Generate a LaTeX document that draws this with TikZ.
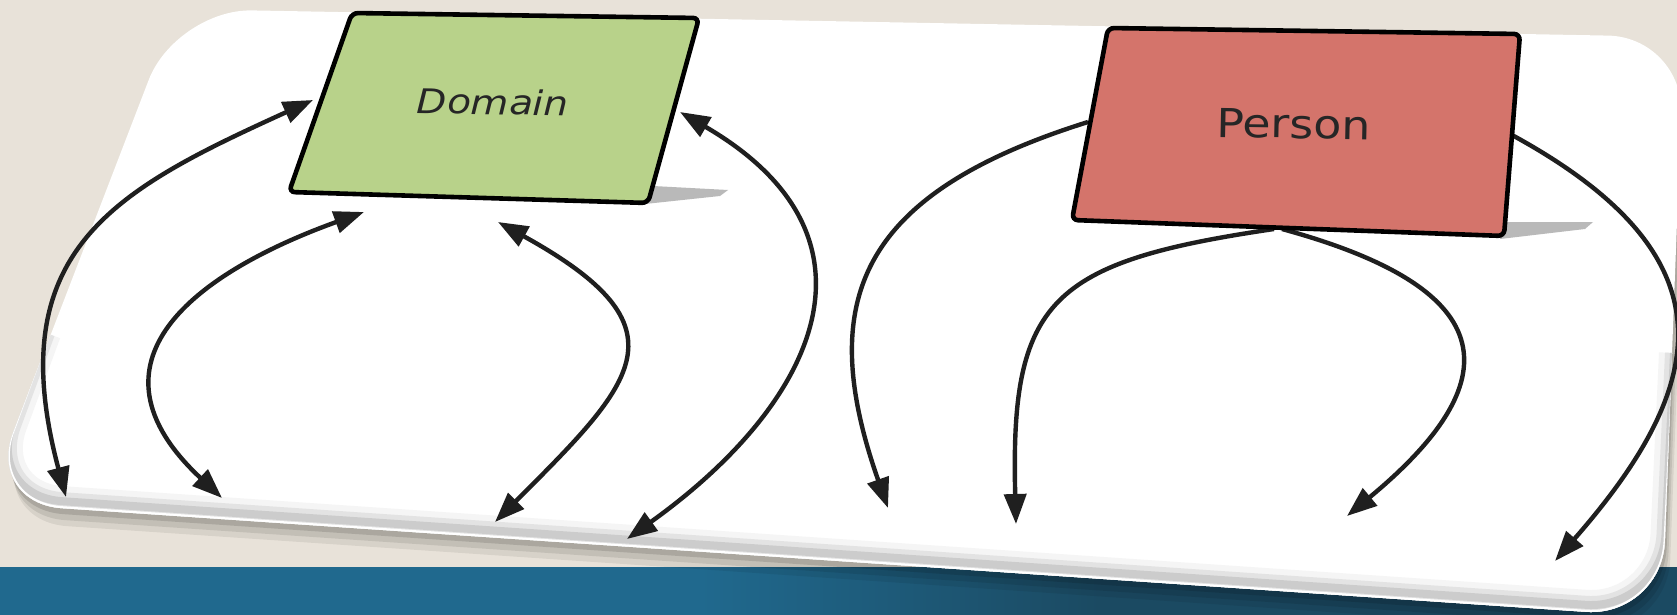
\documentclass[tikz,border=0pt]{standalone}
\usepackage{fontspec}
\setmainfont{DejaVu Sans}
\usetikzlibrary{arrows.meta}

\definecolor{paper}{HTML}{E8E2D9}
\definecolor{band}{HTML}{20698E}
\definecolor{bandd}{HTML}{1B4A62}
\definecolor{domfill}{HTML}{B8D28A}
\definecolor{perfill}{HTML}{D4746B}

% outline of the tilted card
\newcommand\cardpath{(176,9) -- (1684,37) -- (1662,617) -- (-14,503) -- cycle}
\newcommand\rimpath{(46,340) -- (-14,503) -- (1662,617) -- (1674,360)}

\tikzset{
  link/.style={line width=2.2pt, draw=black!88},
  box/.style={line width=2.3pt, draw=black, rounded corners=3pt},
  boxtext/.style={text=black!85, inner sep=0pt, xscale=1.15, rotate=-1, transform shape},
}

\begin{document}
\begin{tikzpicture}[x=0.5pt, y=-0.5pt, >={Triangle[length=15pt,width=11pt]}]
    \useasboundingbox (0,0) rectangle (1677,615);
    \fill[paper] (0,0) rectangle (1677,615);
    % strip at the bottom
    \fill[band] (0,567) rectangle (700,615);
    \shade[left color=band, right color=bandd] (700,567) rectangle (1100,615);
    \fill[bandd] (1100,567) rectangle (1677,615);

    % card with soft shadow and rim
    \foreach \d/\o in {18/0.07, 12/0.09, 6/0.12}
        \fill[black, opacity=\o, rounded corners=38pt, shift={(\d*0.3,\d)}] \cardpath;
    \fill[white, rounded corners=38pt] \cardpath;
    \begin{scope}
        \clip[rounded corners=38pt] \cardpath;
        \foreach \w/\c in {15/8, 9/22, 4/40}
            \draw[gray!\c, line width=\w pt, rounded corners=38pt, shift={(0,-7)}] \rimpath;
        \draw[white, line width=2pt, rounded corners=38pt] \rimpath;
    \end{scope}

    % ends of the connectors
    \coordinate (dw) at (313,100);
    \coordinate (de) at (680,112);
    \coordinate (ds1) at (364,212);
    \coordinate (ds2) at (498,222);
    \coordinate (pw) at (1088,122);
    \coordinate (ps1) at (1274,229);
    \coordinate (ps2) at (1282,229);
    \coordinate (pe) at (1512,135);
    \coordinate (a1) at (66,497);
    \coordinate (a2) at (222,498);
    \coordinate (a3) at (495,522);
    \coordinate (a4) at (627,539);
    \coordinate (b1) at (888,508);
    \coordinate (b2) at (1016,524);
    \coordinate (b3) at (1347,516);
    \coordinate (b4) at (1555,561);

    \draw[link, <->] (dw) .. controls (115,190) and (0,250) .. (a1);
    \draw[link, <->] (ds1) .. controls (195,273) and (76,362) .. (a2);
    \draw[link, <->] (ds2) .. controls (690,328) and (636,381) .. (a3);
    \draw[link, <->] (de) .. controls (895,237) and (817,403) .. (a4);
    \draw[link, ->] (pw) .. controls (858,194) and (815,301) .. (b1);
    \draw[link, ->] (ps1) .. controls (1050,262) and (1010,300) .. (b2);
    \draw[link, ->] (ps2) .. controls (1506,290) and (1509,382) .. (b3);
    \draw[link, ->] (pe) .. controls (1732,255) and (1713,381) .. (b4);

    % Domain
    \fill[gray!55] (653,186) -- (728,190) -- (720,196) -- (645,204) -- cycle;
    \filldraw[box, fill=domfill] (352,13) -- (699,18) -- (648,203) -- (289,192) -- cycle;
    \node[boxtext, font=\fontsize{17}{17}\selectfont\itshape] (domain) at (493,102) {Domain};

    % Person
    \fill[gray!55] (1502,222) -- (1593,222) -- (1585,229) -- (1500,239) -- cycle;
    \filldraw[box, fill=perfill] (1108,28) -- (1520,34) -- (1504,236) -- (1072,220) -- cycle;
    \node[boxtext, font=\fontsize{20}{20}\selectfont] (person) at (1294,124) {Person};
\end{tikzpicture}
\end{document}
